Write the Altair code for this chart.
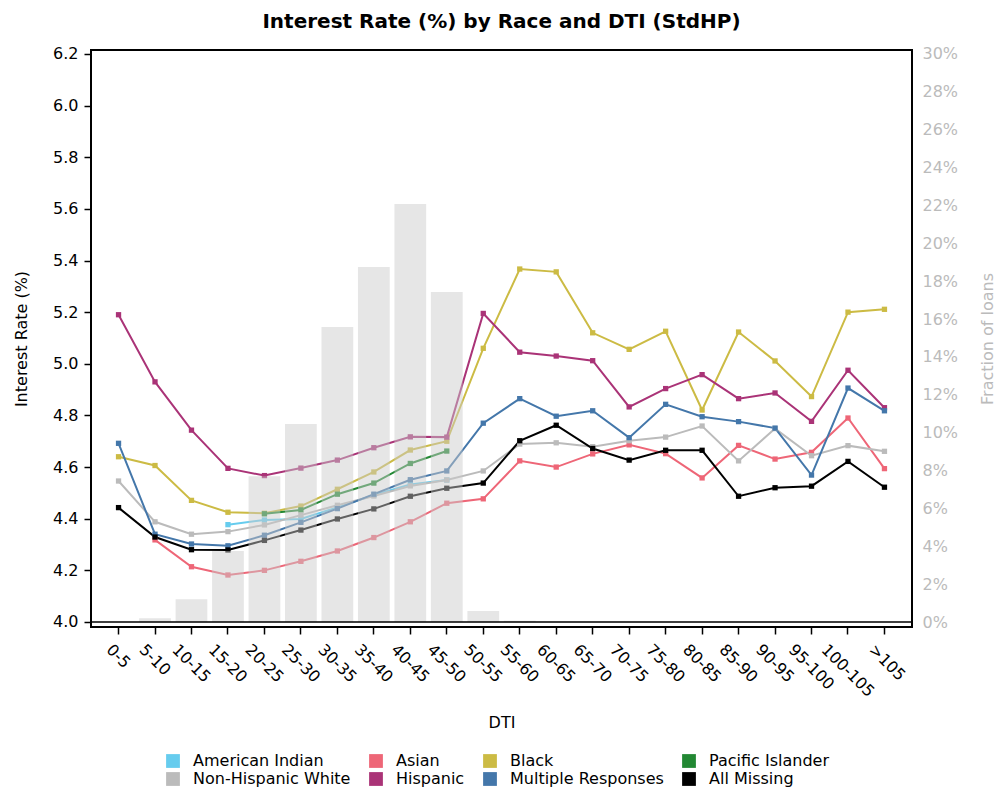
import altair as alt
import pandas as pd

FONT = "DejaVu Sans"

categories = ["0-5", "5-10", "10-15", "15-20", "20-25", "25-30", "30-35", "35-40",
              "40-45", "45-50", "50-55", "55-60", "60-65", "65-70", "70-75", "75-80",
              "80-85", "85-90", "90-95", "95-100", "100-105", ">105"]

american_indian = [None, None, None, 4.377, 4.395, 4.399, 4.444, 4.492, 4.533, 4.550,
                   None, None, None, None, None, None, None, None, None, None, None, None]
asian = [None, 4.318, 4.214, 4.182, 4.200, 4.235, 4.275, 4.327, 4.388, 4.460,
         4.477, 4.624, 4.600, 4.651, 4.686, 4.652, 4.558, 4.684, 4.631, 4.657, 4.790, 4.594]
black = [4.640, 4.606, 4.471, 4.425, 4.421, 4.449, 4.514, 4.581, 4.666, 4.700,
         5.060, 5.367, 5.356, 5.120, 5.056, 5.126, 4.821, 5.123, 5.011, 4.873, 5.200, 5.211]
pacific_islander = [None, None, None, None, 4.419, 4.434, 4.495, 4.538, 4.614, 4.662,
                    None, None, None, None, None, None, None, None, None, None, None, None]
non_hispanic_white = [4.546, 4.388, 4.340, 4.350, 4.376, 4.414, 4.452, 4.488, 4.527, 4.550,
                      4.585, 4.689, 4.694, 4.679, 4.702, 4.716, 4.759, 4.624, 4.749, 4.644, 4.683, 4.661]
hispanic = [5.190, 4.930, 4.743, 4.595, 4.567, 4.596, 4.627, 4.675, 4.717, 4.716,
            5.195, 5.045, 5.030, 5.012, 4.833, 4.904, 4.958, 4.865, 4.887, 4.777, 4.975, 4.830]
multiple_responses = [4.692, 4.340, 4.302, 4.295, 4.336, 4.386, 4.439, 4.495, 4.551, 4.585,
                      4.770, 4.865, 4.797, 4.818, 4.714, 4.843, 4.795, 4.776, 4.751, 4.569, 4.906, 4.818]
all_missing = [4.443, 4.329, 4.280, 4.279, 4.316, 4.356, 4.399, 4.438, 4.487, 4.518,
               4.538, 4.702, 4.762, 4.672, 4.627, 4.665, 4.665, 4.487, 4.520, 4.526, 4.622, 4.522]

fraction_of_loans = [0.0, 0.002, 0.012, 0.0375, 0.077, 0.1046, 0.1558, 0.1875, 0.2208, 0.1743,
                     0.0058, 0.0006, 0.0, 0.0, 0.0, 0.0, 0.0, 0.0, 0.0, 0.0, 0.0, 0.0]

races = ["American Indian", "Asian", "Black", "Pacific Islander",
         "Non-Hispanic White", "Hispanic", "Multiple Responses", "All Missing"]
race_colors = ["#66CCEE", "#EE6677", "#CCBB44", "#228833",
               "#BBBBBB", "#AA3377", "#4477AA", "#000000"]

rate_ticks = [4.0, 4.2, 4.4, 4.6, 4.8, 5.0, 5.2, 5.4, 5.6, 5.8, 6.0, 6.2]
frac_ticks = [0.0, 0.02, 0.04, 0.06, 0.08, 0.10, 0.12, 0.14, 0.16, 0.18, 0.20,
              0.22, 0.24, 0.26, 0.28, 0.30]

series = [american_indian, asian, black, pacific_islander,
          non_hispanic_white, hispanic, multiple_responses, all_missing]
rows = []
for name, vals in zip(races, series):
    for c, v in zip(categories, vals):
        if v is not None:
            rows.append({"DTI": c, "race": name, "rate": v})
lines_df = pd.DataFrame(rows)
bars_df = pd.DataFrame({"DTI": categories, "frac": fraction_of_loans})


def build(label_offset):
    x_scale = alt.Scale(domain=categories, paddingInner=0.13, paddingOuter=0.32)
    x_axis = alt.Axis(title="DTI", labelAngle=45, labelAlign="left", labelBaseline="top",
                      labelOffset=label_offset, labelPadding=7, tickSize=7,
                      tickColor="black", tickWidth=1.5, domain=False, grid=False,
                      labelFontSize=16, labelColor="black", labelFont=FONT,
                      labelOverlap=False,
                      titleFontSize=16, titleFontWeight="normal", titleFont=FONT,
                      titleColor="black", titlePadding=15)
    x_enc = alt.X("DTI:N", scale=x_scale, axis=x_axis, sort=categories)

    left_scale = alt.Scale(domain=[3.9806, 6.2153], nice=False, zero=False)
    y_left = alt.Y("rate:Q", scale=left_scale,
                   axis=alt.Axis(title="Interest Rate (%)", orient="left", values=rate_ticks,
                                 format=".1f", tickSize=7, tickWidth=1.5, tickColor="black",
                                 domain=False, grid=False, labelFontSize=16, labelColor="black",
                                 labelFont=FONT, labelPadding=6, labelOverlap=False,
                                 titleFontSize=16, titleFontWeight="normal", titleFont=FONT,
                                 titleColor="black", titlePadding=23))
    color_scale = alt.Scale(domain=races, range=race_colors)

    lines = alt.Chart(lines_df).mark_line(strokeWidth=2).encode(
        x=x_enc, y=y_left,
        color=alt.Color("race:N", scale=color_scale, legend=None),
    )
    points = alt.Chart(lines_df).mark_square(size=28, opacity=1, filled=True).encode(
        x=x_enc, y=y_left,
        color=alt.Color("race:N", scale=color_scale,
                        legend=alt.Legend(title=None, orient="none", legendX=74, legendY=703,
                                          columns=4, direction="horizontal",
                                          symbolType="square", symbolSize=190,
                                          symbolStrokeWidth=0, symbolOpacity=1,
                                          labelFontSize=16,
                                          labelFont=FONT, labelColor="black",
                                          columnPadding=17, rowPadding=2, labelOffset=12,
                                          labelLimit=400, padding=0)),
    )

    y_right = alt.Y("frac:Q",
                    scale=alt.Scale(domain=[-0.00264, 0.3021], nice=False, zero=False),
                    axis=alt.Axis(title="Fraction of loans", orient="right", values=frac_ticks,
                                  format=".0%", ticks=False, domain=False, grid=False,
                                  labelOverlap=False, labelSeparation=0,
                                  labelColor="#bbbbbb", labelFontSize=16, labelFont=FONT,
                                  labelPadding=10, titleColor="#bbbbbb", titleFontSize=16,
                                  titleFontWeight="normal", titleFont=FONT, titleAngle=270,
                                  titleBaseline="top", titlePadding=22))
    bars = alt.Chart(bars_df).mark_bar(color="#cbcbcb", opacity=0.48).encode(
        x=x_enc, y=y_right, y2=alt.datum(0)
    )

    rule_df = pd.DataFrame({"rate": [4.0]})
    rule = alt.Chart(rule_df).mark_rule(color="black", strokeWidth=1.5).encode(
        y=alt.Y("rate:Q", scale=alt.Scale(domain=[3.9806, 6.2153], nice=False, zero=False),
                axis=None)
    )

    chart = alt.layer(
        alt.layer(lines, points).resolve_legend(color="independent"),
        bars,
        rule,
    ).resolve_scale(y="independent").properties(
        width=821, height=577,
        autosize="none",
        padding={"left": 83, "top": 42, "right": 85, "bottom": 162},
        title=alt.TitleParams("Interest Rate (%) by Race and DTI (StdHP)", fontSize=20,
                              fontWeight="bold", font=FONT, anchor="middle", color="black",
                              offset=14),
    ).configure(font=FONT).configure_view(stroke="black", strokeWidth=2
    ).configure_axis(labelOverlap=False)
    return chart


try:
    chart = build(alt.ExprRef("-0.354*(10.2*length(datum.value) - 20)"))
    chart.save("out.html", embed_options={"renderer": "svg", "actions": False})
except Exception:
    chart = build(-10)
    chart.save("out.html", embed_options={"renderer": "svg", "actions": False})
